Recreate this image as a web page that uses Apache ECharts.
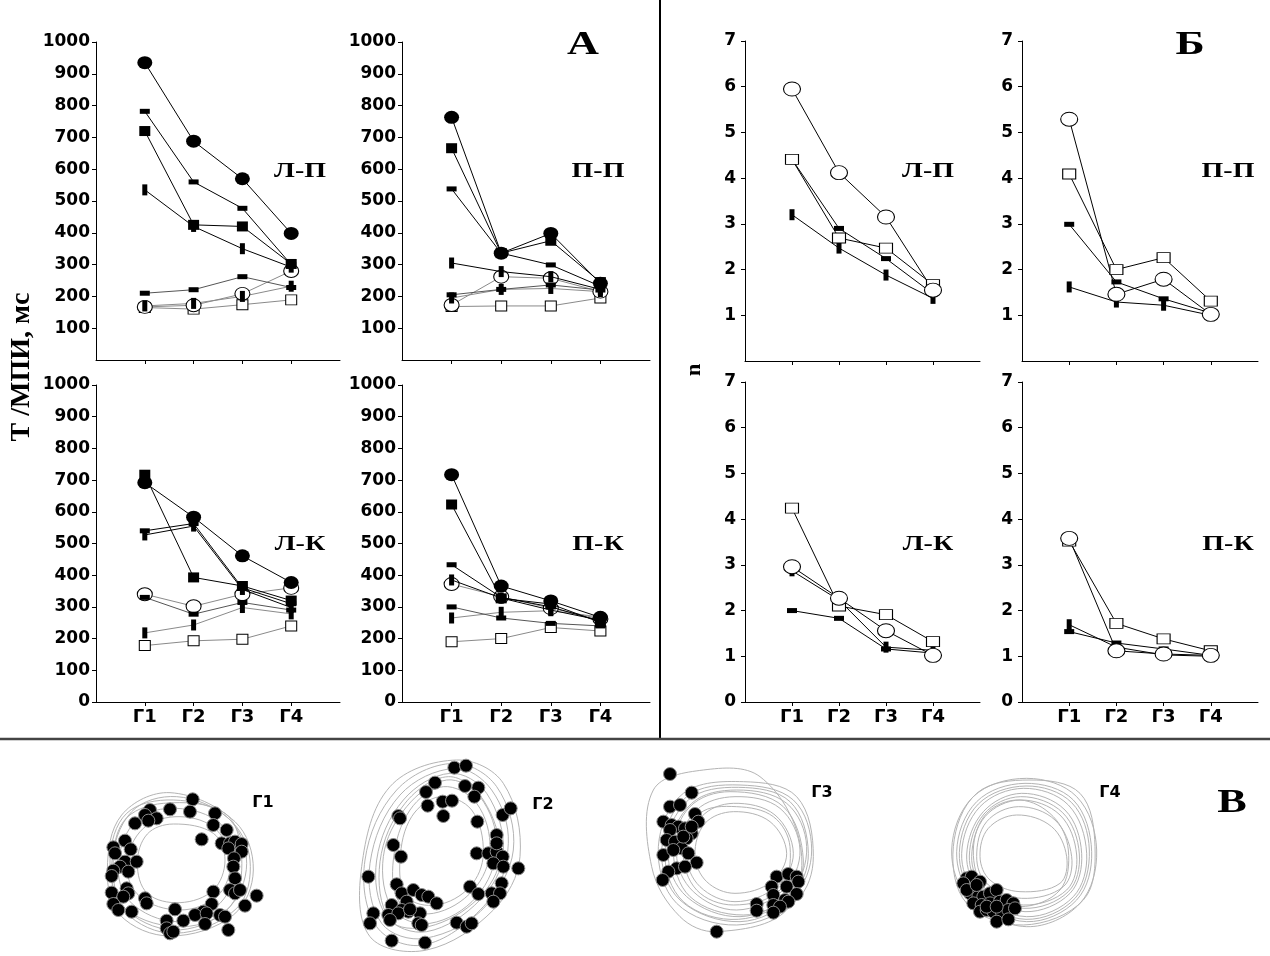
<!DOCTYPE html>
<html><head><meta charset="utf-8">
<script src="https://cdn.jsdelivr.net/npm/echarts@6/dist/echarts.min.js"></script>
<style>html,body{margin:0;padding:0;background:#fff}#c{width:1270px;height:956px}</style>
</head><body><div id="c"></div>
<script>
// ---------- categories & axis ticks ----------
const cats = ['Г1', 'Г2', 'Г3', 'Г4'];
const yMaxA = 1000, yStepA = 100;   // panel А (Т/МПИ, мс)
const yMaxB = 7, yStepB = 1;        // panel Б (n)

// ---------- Panel А : Л-П ----------
const aLP_fCircle = [935, 688, 570, 398];
const aLP_fSquare = [720, 425, 420, 302];
const aLP_hUp     = [782, 560, 477, 300];
const aLP_vUp     = [535, 420, 350, 292];
const aLP_hLow    = [210, 221, 262, 228];
const aLP_vLow    = [170, 178, 200, 232];
const aLP_oCircle = [167, 172, 208, 280];
const aLP_oSquare = [165, 160, 174, 189];
// ---------- Panel А : П-П ----------
const aPP_fCircle = [763, 336, 398, 241];
const aPP_fSquare = [666, 336, 375, 245];
const aPP_hUp     = [538, 336, 299, 232];
const aPP_vUp     = [305, 278, 262, 222];
const aPP_hLow    = [205, 222, 236, 220];
const aPP_vLow    = [195, 222, 225, 215];
const aPP_oCircle = [173, 262, 257, 215];
const aPP_oSquare = [168, 170, 170, 195];
// ---------- Panel А : Л-К ----------
const aLK_fCircle = [692, 583, 461, 377];
const aLK_fSquare = [717, 393, 366, 320];
const aLK_hUp     = [540, 563, 360, 310];
const aLK_vUp     = [527, 555, 355, 298];
const aLK_hLow    = [330, 277, 314, 290];
const aLK_vLow    = [218, 243, 298, 278];
const aLK_oCircle = [340, 302, 340, 360];
const aLK_oSquare = [178, 193, 198, 240];
// ---------- Panel А : П-К ----------
const aPK_fCircle = [717, 366, 319, 267];
const aPK_fSquare = [623, 327, 309, 251];
const aPK_hUp     = [433, 330, 300, 255];
const aPK_vUp     = [385, 328, 290, 258];
const aPK_hLow    = [300, 265, 248, 240];
const aPK_vLow    = [265, 283, 288, 268];
const aPK_oCircle = [372, 332, 296, 262];
const aPK_oSquare = [190, 200, 235, 224];

// ---------- Panel Б ----------
const bLP_oCircle = [5.95, 4.12, 3.15, 1.55];
const bLP_oSquare = [4.41, 2.69, 2.47, 1.67];
const bLP_h       = [4.41, 2.90, 2.24, 1.47];
const bLP_v       = [3.20, 2.47, 1.88, 1.37];

const bPP_oCircle = [5.29, 1.46, 1.79, 1.02];
const bPP_oSquare = [4.09, 2.00, 2.26, 1.31];
const bPP_h       = [2.99, 1.73, 1.36, 1.05];
const bPP_v       = [1.62, 1.29, 1.22, 1.00];

const bLK_oCircle = [2.96, 2.27, 1.56, 1.02];
const bLK_oSquare = [4.24, 2.10, 1.91, 1.32];
const bLK_h       = [2.00, 1.83, 1.16, 1.07];
const bLK_v       = [2.87, 2.23, 1.20, 1.13];

const bPK_oCircle = [3.58, 1.12, 1.05, 1.02];
const bPK_oSquare = [3.52, 1.72, 1.38, 1.12];
const bPK_h       = [1.54, 1.29, 1.16, 1.02];
const bPK_v       = [1.69, 1.20, 1.03, 1.00];

// ---------- Panel В : trajectories (arbitrary units per frame) ----------
const g1Loops = [
 [[560,340],[500,200],[340,150],[200,190],[150,330],[190,470],[340,540],[500,480]],
 [[530,330],[480,220],[350,175],[230,210],[175,340],[210,455],[350,515],[480,460]],
 [[580,360],[525,215],[330,128],[185,195],[142,360],[180,495],[330,558],[520,495]],
 [[510,350],[470,240],[360,200],[250,235],[200,345],[240,440],[360,480],[470,440]],
 [[545,320],[495,190],[310,160],[190,215],[160,370],[200,480],[370,530],[510,470]],
 [[495,330],[460,250],[340,222],[262,252],[232,340],[262,430],[360,458],[460,420]],
 [[570,330],[505,205],[350,140],[215,185],[155,345],[195,485],[345,550],[530,475]]
];
const g1Dots = [[398,148],[330,178],[390,185],[465,190],[270,180],[255,195],[290,205],[265,212],[225,220],[460,225],[500,240],[425,268],[485,280],[510,280],[525,275],[545,282],[505,295],[545,305],[195,272],[160,292],[165,310],[212,298],[195,335],[230,335],[180,350],[205,365],[160,362],[155,378],[522,325],[520,350],[525,385],[155,428],[200,415],[205,430],[190,440],[255,445],[260,460],[460,425],[510,420],[525,430],[540,420],[590,437],[555,467],[160,462],[175,480],[215,485],[345,478],[455,462],[430,485],[405,495],[440,490],[370,512],[320,512],[320,535],[330,550],[340,545],[480,495],[495,500],[435,522],[505,540]];

const g2Loops = [
 [[520,300],[470,110],[340,40],[170,120],[75,330],[110,530],[250,585],[430,470]],
 [[490,310],[440,130],[330,70],[190,150],[110,330],[140,500],[260,545],[420,450]],
 [[450,300],[410,160],[310,110],[210,180],[160,330],[180,460],[280,490],[400,420]],
 [[540,320],[490,100],[350,30],[150,110],[65,350],[90,560],[260,600],[460,480]],
 [[470,290],[420,140],[320,90],[200,170],[130,320],[160,480],[270,520],[410,440]],
 [[430,310],[395,180],[300,140],[215,200],[180,330],[200,440],[290,465],[390,410]],
 [[505,280],[455,120],[345,55],[180,135],[90,340],[125,520],[255,565],[440,465]],
 [[480,320],[430,150],[325,80],[195,160],[120,335],[150,510],[265,530],[415,445]]
];
const g2Dots = [[343,53],[378,47],[285,98],[258,126],[375,108],[415,113],[403,140],[263,167],[308,155],[336,152],[310,198],[175,198],[180,205],[412,215],[488,195],[512,175],[470,255],[160,285],[183,320],[410,310],[445,310],[470,305],[488,320],[460,340],[490,350],[535,355],[470,280],[85,380],[170,403],[185,430],[220,420],[245,435],[265,440],[290,460],[200,455],[390,410],[415,432],[455,430],[485,400],[480,430],[460,455],[155,465],[185,480],[205,485],[240,490],[100,490],[145,495],[175,490],[235,520],[245,525],[90,520],[150,510],[350,518],[380,530],[395,520],[155,572],[255,578],[210,478]];

const g3Loops = [
 [[575,300],[520,150],[360,105],[200,140],[125,300],[180,450],[360,515],[520,440]],
 [[560,290],[500,160],[350,120],[215,160],[145,310],[200,440],[360,500],[510,430]],
 [[540,300],[480,175],[345,140],[230,180],[170,310],[220,425],[350,480],[490,420]],
 [[520,310],[465,195],[340,160],[245,200],[200,315],[240,410],[345,455],[470,410]],
 [[500,310],[450,215],[340,185],[255,220],[225,315],[260,395],[345,430],[455,395]],
 [[580,320],[530,140],[370,95],[190,130],[115,290],[170,460],[350,525],[530,450]],
 [[550,330],[490,170],[330,125],[210,170],[160,300],[210,440],[370,495],[505,440]],
 [[540,280],[420,80],[250,60],[100,120],[95,350],[180,500],[290,545],[500,480]],
 [[510,290],[460,200],[350,170],[240,190],[190,305],[230,420],[340,465],[480,420]],
 [[565,310],[510,155],[355,112],[205,150],[135,305],[190,455],[355,508],[515,435]]
];
const g3Dots = [[150,72],[215,128],[150,170],[180,165],[225,192],[235,215],[130,215],[155,225],[175,230],[195,235],[215,250],[150,240],[140,270],[165,275],[200,265],[185,295],[205,310],[130,315],[230,338],[170,355],[145,365],[195,350],[128,390],[470,380],[505,372],[530,380],[535,395],[455,410],[500,410],[460,435],[495,450],[530,432],[410,462],[460,465],[505,455],[480,470],[410,482],[460,488],[290,545],[215,230],[190,260],[160,300]];

const g4Loops = [
 [[530,300],[470,140],[320,85],[160,140],[95,300],[150,450],[320,530],[480,460]],
 [[515,305],[460,150],[315,100],[170,155],[110,305],[160,440],[320,515],[470,450]],
 [[500,310],[445,165],[310,115],[180,170],[125,310],[170,430],[320,500],[460,440]],
 [[485,310],[435,180],[305,130],[190,185],[140,315],[180,420],[315,485],[450,430]],
 [[470,315],[420,195],[300,150],[195,200],[155,320],[190,410],[310,465],[440,420]],
 [[455,320],[405,210],[295,170],[200,215],[170,320],[200,400],[305,445],[430,410]],
 [[440,320],[395,230],[290,195],[205,235],[180,320],[210,390],[300,425],[420,400]],
 [[525,290],[480,130],[330,90],[170,130],[100,290],[140,460],[310,525],[490,450]],
 [[445,300],[400,200],[300,150],[200,190],[160,300],[195,420],[300,470],[420,420]],
 [[508,300],[455,158],[318,108],[175,162],[118,308],[165,435],[318,508],[465,445]],
 [[478,312],[428,188],[302,140],[192,192],[148,318],[185,415],[312,475],[445,425]]
];
const g4Dots = [[140,385],[155,380],[130,400],[160,415],[180,395],[150,430],[175,440],[190,440],[210,430],[230,420],[160,460],[185,465],[210,460],[240,455],[260,450],[280,460],[180,485],[200,480],[220,485],[245,485],[265,480],[285,475],[230,515],[265,508],[200,470],[140,420],[170,405],[230,470]];

// ---------- layout ----------
const grids = [
  {left: 96,  top: 42,  width: 244, height: 318},  // А Л-П
  {left: 402, top: 42,  width: 248, height: 318},  // А П-П
  {left: 96,  top: 385, width: 244, height: 317},  // А Л-К
  {left: 402, top: 385, width: 248, height: 317},  // А П-К
  {left: 745, top: 41,  width: 235, height: 320},  // Б Л-П
  {left: 1022,top: 41,  width: 236, height: 320},  // Б П-П
  {left: 745, top: 382, width: 235, height: 320},  // Б Л-К
  {left: 1022,top: 382, width: 236, height: 320},  // Б П-К
  // trajectories
  {left: 60,  top: 750, width: 300, height: 200},
  {left: 340, top: 750, width: 300, height: 200},
  {left: 620, top: 750, width: 320, height: 200},
  {left: 920, top: 750, width: 350, height: 200}
];
const trajRange = [[900,600],[900,600],[960,600],[1050,600]];

const xAxes = [], yAxes = [];
for (let i = 0; i < 8; i++) {
  const bottomRow = (i === 2 || i === 3 || i === 6 || i === 7);
  const isA = i < 4;
  xAxes.push({
    gridIndex: i, type: 'value', min: 0, max: 5,
    axisLine: {show: true, onZero: false, lineStyle: {color: '#000', width: 1}},
    axisTick: {show: true, length: 4, lineStyle: {color: '#000'}, customValues: [1,2,3,4]},
    axisLabel: {show: bottomRow, customValues: [1,2,3,4], formatter: v => cats[v-1] || '',
      fontFamily: 'DejaVu Sans', fontWeight: 'bold', fontSize: 18, color: '#000', margin: 6},
    splitLine: {show: false}
  });
  yAxes.push({
    gridIndex: i, type: 'value', min: 0, max: isA ? yMaxA : yMaxB, interval: isA ? yStepA : yStepB,
    axisLine: {show: true, lineStyle: {color: '#000', width: 1}},
    axisTick: {show: true, length: 4, lineStyle: {color: '#000'}},
    axisLabel: {show: true, showMinLabel: bottomRow, formatter: v => String(v),
      fontFamily: 'DejaVu Sans', fontWeight: 'bold',
      fontSize: 17, color: '#000', margin: isA ? 6 : 9},
    splitLine: {show: false}
  });
}
for (let k = 0; k < 4; k++) {
  xAxes.push({gridIndex: 8+k, type: 'value', min: 0, max: trajRange[k][0], show: false});
  yAxes.push({gridIndex: 8+k, type: 'value', min: 0, max: trajRange[k][1], inverse: true, show: false});
}

// marker styles
const M = {
  fCircle: {symbol: 'circle', size: [15,13], fill: '#000', border: null},
  fSquare: {symbol: 'rect', size: [11,10], fill: '#000', border: null},
  hDash:   {symbol: 'rect', size: [10,5],  fill: '#000', border: null},
  vDash:   {symbol: 'rect', size: [5,11],  fill: '#000', border: null},
  oCircle: {symbol: 'circle', size: [15,13], fill: '#fff', border: '#000'},
  oSquare: {symbol: 'rect', size: [11,10], fill: '#fff', border: '#000'},
  oCircleB:{symbol: 'circle', size: [17,14], fill: '#fff', border: '#000'},
  oSquareB:{symbol: 'rect', size: [13,10], fill: '#fff', border: '#000'}
};
const series = [];
function mk(gi, data, m, lineColor, z) {
  series.push({
    type: 'line', xAxisIndex: gi, yAxisIndex: gi, z: z,
    data: data.map((v, i) => [i + 1, v]),
    symbol: m.symbol, symbolSize: m.size, showSymbol: true,
    itemStyle: {color: m.fill, borderColor: m.border || m.fill, borderWidth: m.border ? 1 : 0},
    lineStyle: {color: lineColor, width: 1},
    silent: true, animation: false, clip: false
  });
}
const GR = '#8a8a8a', BK = '#000';
const aSets = [
  [aLP_fCircle, aLP_fSquare, aLP_hUp, aLP_vUp, aLP_hLow, aLP_vLow, aLP_oCircle, aLP_oSquare],
  [aPP_fCircle, aPP_fSquare, aPP_hUp, aPP_vUp, aPP_hLow, aPP_vLow, aPP_oCircle, aPP_oSquare],
  [aLK_fCircle, aLK_fSquare, aLK_hUp, aLK_vUp, aLK_hLow, aLK_vLow, aLK_oCircle, aLK_oSquare],
  [aPK_fCircle, aPK_fSquare, aPK_hUp, aPK_vUp, aPK_hLow, aPK_vLow, aPK_oCircle, aPK_oSquare]
];
aSets.forEach((s, gi) => {
  mk(gi, s[7], M.oSquare, GR, 2);
  mk(gi, s[6], M.oCircle, GR, 2);
  mk(gi, s[5], M.vDash, GR, 2);
  mk(gi, s[4], M.hDash, '#555', 2);
  mk(gi, s[3], M.vDash, BK, 3);
  mk(gi, s[2], M.hDash, BK, 3);
  mk(gi, s[1], M.fSquare, BK, 3);
  mk(gi, s[0], M.fCircle, BK, 3);
});
const bSets = [
  [bLP_oCircle, bLP_oSquare, bLP_h, bLP_v],
  [bPP_oCircle, bPP_oSquare, bPP_h, bPP_v],
  [bLK_oCircle, bLK_oSquare, bLK_h, bLK_v],
  [bPK_oCircle, bPK_oSquare, bPK_h, bPK_v]
];
bSets.forEach((s, k) => {
  const gi = 4 + k;
  mk(gi, s[3], M.vDash, BK, 3);
  mk(gi, s[2], M.hDash, BK, 3);
  mk(gi, s[1], M.oSquareB, BK, 3);
  mk(gi, s[0], M.oCircleB, BK, 3);
});
// trajectories: closed smooth loops through the read points, via the axes' scales
[[g1Loops, g1Dots], [g2Loops, g2Dots], [g3Loops, g3Dots], [g4Loops, g4Dots]].forEach((p, k) => {
  const gi = 8 + k;
  const loops = p[0];
  series.push({
    type: 'custom', xAxisIndex: gi, yAxisIndex: gi, coordinateSystem: 'cartesian2d',
    data: loops.map((l, i) => [l[0][0], l[0][1], i]),
    encode: {x: 0, y: 1},
    renderItem: function (params, api) {
      const loop = loops[api.value(2)];
      const pts = loop.map(pt => api.coord(pt));
      return {type: 'polygon', shape: {points: pts, smooth: 0.36, smoothConstraint: false},
        style: {fill: 'none', stroke: '#b4b4b4', lineWidth: 1}};
    },
    silent: true, animation: false, clip: false, z: 1
  });
  series.push({type: 'scatter', xAxisIndex: gi, yAxisIndex: gi, data: p[1], symbol: 'circle', symbolSize: 13,
    itemStyle: {color: '#000', borderColor: '#8c8c8c', borderWidth: 1, opacity: 1}, silent: true, animation: false, z: 2});
});

function txt(x, y, s, font, sx, rot) {
  return {type: 'text', x: x, y: y, scaleX: sx || 1, rotation: rot || 0, z: 100,
    style: {text: s, font: font, fill: '#000', align: 'center', verticalAlign: 'middle',
      textAlign: 'center', textVerticalAlign: 'middle'}};
}
const serifB = (n) => 'bold ' + n + 'px "Liberation Serif"';
const sansB = (n) => 'bold ' + n + 'px "DejaVu Sans"';
const graphic = [
  {type: 'line', shape: {x1: 660, y1: 0, x2: 660, y2: 738}, style: {stroke: '#000', lineWidth: 2}, z: 50},
  {type: 'line', shape: {x1: 0, y1: 739, x2: 1270, y2: 739}, style: {stroke: '#444', lineWidth: 2.5}, z: 50},
  txt(583, 45, 'А', serifB(34), 1.3),
  txt(1190, 45, 'Б', serifB(34), 1.3),
  txt(1232, 803, 'В', serifB(34), 1.3),
  txt(300, 172, 'Л-П', serifB(20), 1.4),
  txt(598, 172, 'П-П', serifB(20), 1.4),
  txt(300, 545, 'Л-К', serifB(20), 1.4),
  txt(598, 545, 'П-К', serifB(20), 1.4),
  txt(928, 172, 'Л-П', serifB(20), 1.4),
  txt(1228, 172, 'П-П', serifB(20), 1.4),
  txt(928, 545, 'Л-К', serifB(20), 1.4),
  txt(1228, 545, 'П-К', serifB(20), 1.4),
  txt(22, 367, 'Т /МПИ, мс', serifB(28), 1, Math.PI / 2),
  txt(694, 370, 'n', serifB(22), 1, Math.PI / 2),
  txt(263, 803, 'Г1', sansB(16), 1),
  txt(543, 805, 'Г2', sansB(16), 1),
  txt(822, 793, 'Г3', sansB(16), 1),
  txt(1110, 793, 'Г4', sansB(16), 1)
];

const chart = echarts.init(document.getElementById('c'), null, {renderer: 'canvas'});
chart.setOption({
  backgroundColor: '#fff',
  animation: false,
  grid: grids.map(g => Object.assign({containLabel: false}, g)),
  xAxis: xAxes,
  yAxis: yAxes,
  series: series,
  graphic: graphic
});
</script>
</body></html>
